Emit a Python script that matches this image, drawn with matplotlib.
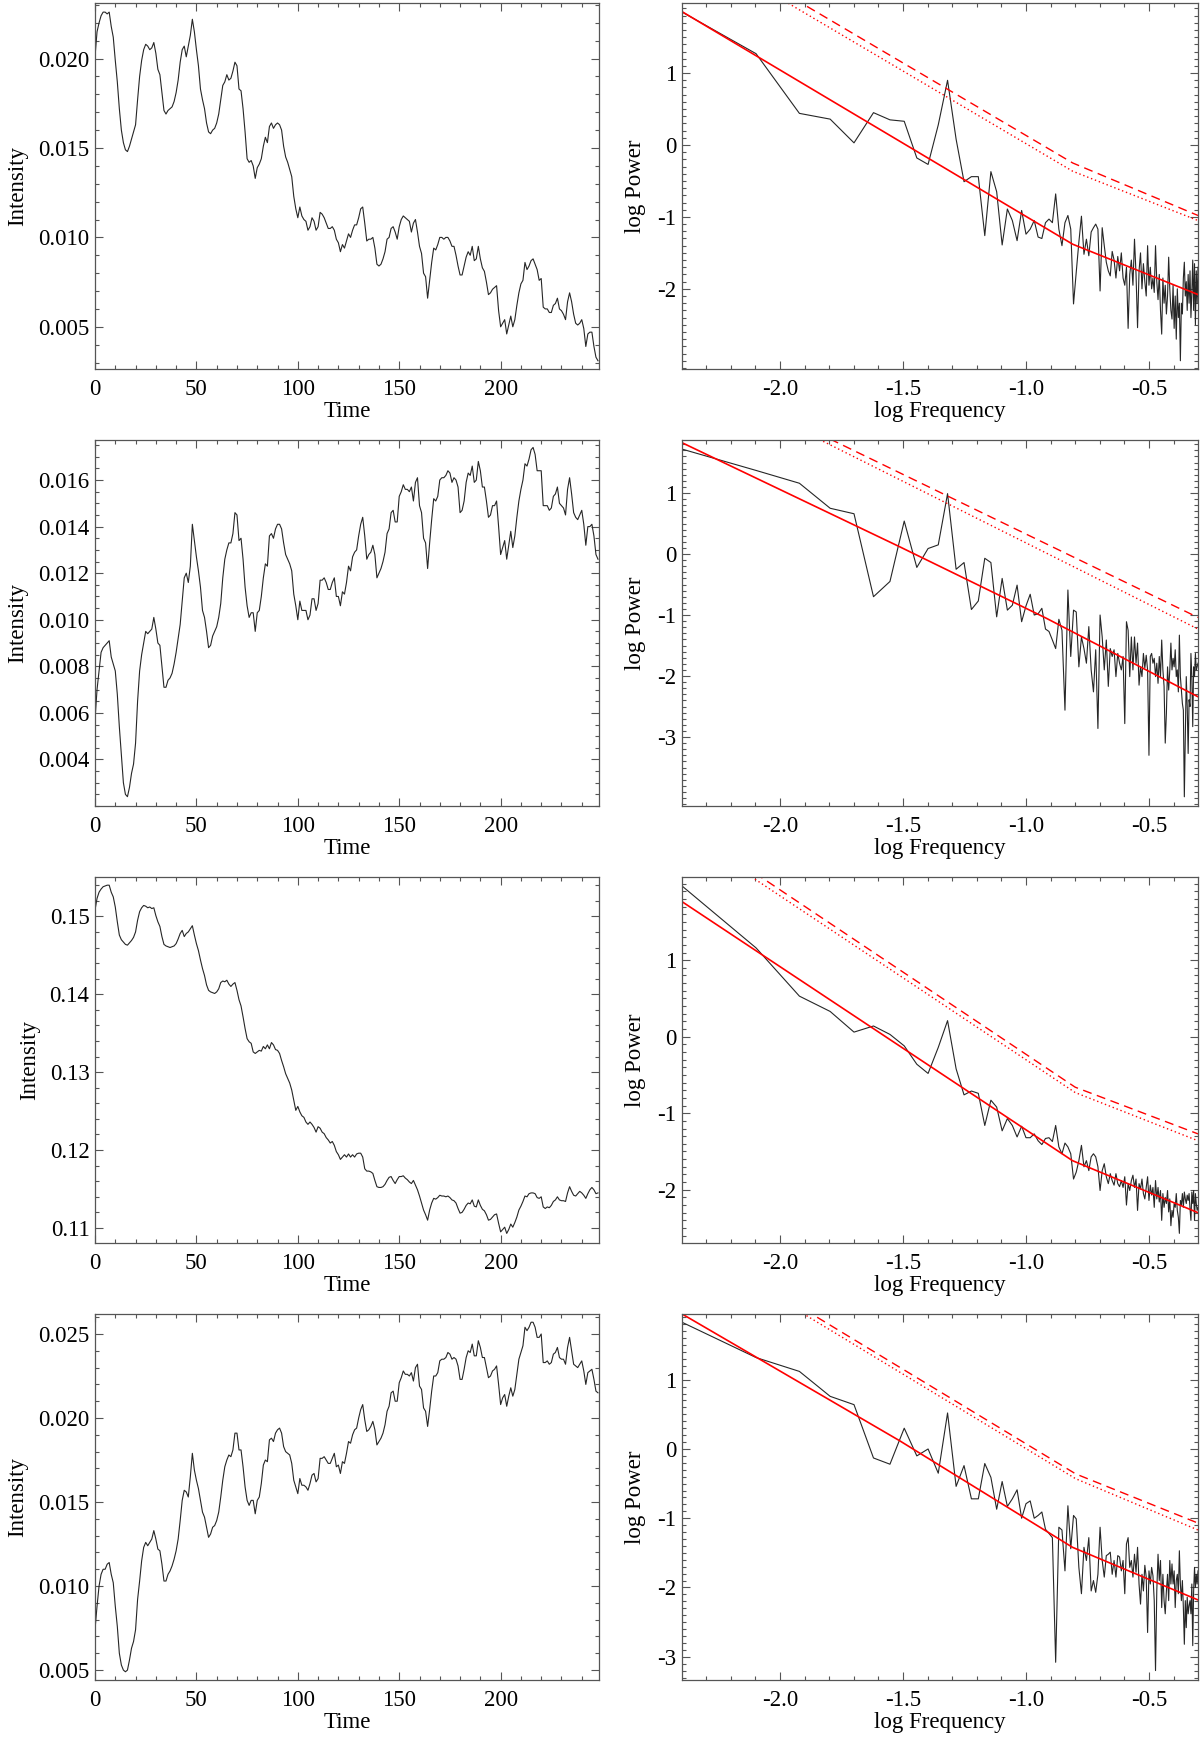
import numpy as np
import matplotlib
matplotlib.use("Agg")
import matplotlib.pyplot as plt
from matplotlib.ticker import MultipleLocator, FixedLocator, FormatStrFormatter

plt.rcParams["font.family"] = ["Liberation Serif", "DejaVu Serif"]
plt.rcParams["axes.unicode_minus"] = False
plt.rcParams["font.size"] = 16.5

# ---- light curves (one value per time step, t = 0..248) ----
intensity_1 = [
    0.0201, 0.0215, 0.0220, 0.0224, 0.0226, 0.0226, 0.0225, 0.0226, 0.0218, 0.0212,
    0.0199, 0.0187, 0.0172, 0.0160, 0.0153, 0.0149, 0.0148, 0.0151, 0.0155, 0.0159,
    0.0163, 0.0177, 0.0190, 0.0199, 0.0205, 0.0208, 0.0207, 0.0205, 0.0206, 0.0209,
    0.0203, 0.0194, 0.0191, 0.0181, 0.0171, 0.0169, 0.0171, 0.0172, 0.0173, 0.0176,
    0.0181, 0.0188, 0.0198, 0.0205, 0.0207, 0.0201, 0.0207, 0.0213, 0.0222, 0.0215,
    0.0205, 0.0196, 0.0183, 0.0177, 0.0172, 0.0164, 0.0159, 0.0158, 0.0160, 0.0161,
    0.0164, 0.0169, 0.0177, 0.0185, 0.0187, 0.0191, 0.0188, 0.0189, 0.0193, 0.0198,
    0.0196, 0.0183, 0.0182, 0.0172, 0.0159, 0.0144, 0.0142, 0.0143, 0.0140, 0.0133,
    0.0139, 0.0141, 0.0144, 0.0151, 0.0156, 0.0153, 0.0162, 0.0164, 0.0161, 0.0163,
    0.0164, 0.0163, 0.0160, 0.0151, 0.0145, 0.0142, 0.0138, 0.0134, 0.0123, 0.0116,
    0.0111, 0.0117, 0.0112, 0.0110, 0.0109, 0.0104, 0.0106, 0.0111, 0.0109, 0.0104,
    0.0106, 0.0114, 0.0113, 0.0111, 0.0108, 0.0105, 0.0105, 0.0106, 0.0104, 0.0099,
    0.0097, 0.0092, 0.0096, 0.0094, 0.0098, 0.0102, 0.0100, 0.0104, 0.0107, 0.0107,
    0.0111, 0.0116, 0.0117, 0.0108, 0.0098, 0.0099, 0.0099, 0.0100, 0.0094, 0.0085,
    0.0084, 0.0085, 0.0088, 0.0092, 0.0099, 0.0100, 0.0105, 0.0106, 0.0103, 0.0099,
    0.0106, 0.0110, 0.0112, 0.0111, 0.0110, 0.0109, 0.0103, 0.0108, 0.0110, 0.0103,
    0.0095, 0.0091, 0.0080, 0.0078, 0.0066, 0.0076, 0.0086, 0.0094, 0.0093, 0.0096,
    0.0100, 0.0100, 0.0099, 0.0100, 0.0100, 0.0098, 0.0095, 0.0095, 0.0090, 0.0084,
    0.0079, 0.0079, 0.0084, 0.0089, 0.0092, 0.0090, 0.0095, 0.0087, 0.0088, 0.0095,
    0.0088, 0.0083, 0.0081, 0.0075, 0.0068, 0.0069, 0.0071, 0.0072, 0.0073, 0.0059,
    0.0050, 0.0052, 0.0054, 0.0046, 0.0051, 0.0056, 0.0050, 0.0054, 0.0062, 0.0069,
    0.0074, 0.0076, 0.0086, 0.0082, 0.0084, 0.0087, 0.0088, 0.0085, 0.0082, 0.0076,
    0.0077, 0.0061, 0.0060, 0.0060, 0.0058, 0.0058, 0.0062, 0.0063, 0.0066, 0.0060,
    0.0059, 0.0057, 0.0054, 0.0064, 0.0069, 0.0064, 0.0057, 0.0052, 0.0051, 0.0052,
    0.0054, 0.0049, 0.0039, 0.0046, 0.0047, 0.0047, 0.0039, 0.0033, 0.0031]

intensity_2 = [
    0.0057, 0.0070, 0.0078, 0.0086, 0.0088, 0.0089, 0.0090, 0.0091, 0.0084, 0.0081,
    0.0078, 0.0068, 0.0054, 0.0042, 0.0030, 0.0025, 0.0024, 0.0028, 0.0034, 0.0038,
    0.0047, 0.0065, 0.0078, 0.0085, 0.0090, 0.0095, 0.0094, 0.0095, 0.0096, 0.0101,
    0.0096, 0.0090, 0.0089, 0.0080, 0.0071, 0.0071, 0.0074, 0.0075, 0.0077, 0.0081,
    0.0086, 0.0092, 0.0098, 0.0108, 0.0118, 0.0120, 0.0116, 0.0123, 0.0141, 0.0134,
    0.0127, 0.0121, 0.0114, 0.0104, 0.0101, 0.0095, 0.0088, 0.0089, 0.0093, 0.0095,
    0.0097, 0.0101, 0.0107, 0.0118, 0.0126, 0.0130, 0.0133, 0.0133, 0.0137, 0.0146,
    0.0145, 0.0134, 0.0135, 0.0126, 0.0114, 0.0106, 0.0101, 0.0103, 0.0103, 0.0095,
    0.0103, 0.0104, 0.0110, 0.0118, 0.0124, 0.0123, 0.0136, 0.0137, 0.0135, 0.0139,
    0.0141, 0.0141, 0.0139, 0.0133, 0.0128, 0.0126, 0.0124, 0.0121, 0.0111, 0.0106,
    0.0100, 0.0108, 0.0104, 0.0104, 0.0104, 0.0100, 0.0102, 0.0109, 0.0109, 0.0104,
    0.0107, 0.0117, 0.0117, 0.0118, 0.0116, 0.0113, 0.0113, 0.0116, 0.0118, 0.0110,
    0.0110, 0.0106, 0.0112, 0.0111, 0.0116, 0.0123, 0.0121, 0.0127, 0.0129, 0.0130,
    0.0136, 0.0141, 0.0144, 0.0136, 0.0126, 0.0128, 0.0129, 0.0132, 0.0128, 0.0118,
    0.0120, 0.0122, 0.0125, 0.0129, 0.0137, 0.0139, 0.0146, 0.0147, 0.0142, 0.0142,
    0.0153, 0.0155, 0.0158, 0.0156, 0.0156, 0.0155, 0.0157, 0.0151, 0.0159, 0.0161,
    0.0149, 0.0146, 0.0135, 0.0133, 0.0122, 0.0133, 0.0143, 0.0152, 0.0151, 0.0153,
    0.0160, 0.0161, 0.0161, 0.0162, 0.0164, 0.0163, 0.0159, 0.0161, 0.0160, 0.0157,
    0.0146, 0.0147, 0.0151, 0.0159, 0.0163, 0.0162, 0.0166, 0.0159, 0.0160, 0.0168,
    0.0164, 0.0157, 0.0157, 0.0151, 0.0144, 0.0145, 0.0149, 0.0149, 0.0151, 0.0140,
    0.0128, 0.0131, 0.0134, 0.0126, 0.0132, 0.0138, 0.0131, 0.0136, 0.0144, 0.0151,
    0.0156, 0.0160, 0.0167, 0.0166, 0.0169, 0.0173, 0.0174, 0.0171, 0.0164, 0.0164,
    0.0164, 0.0149, 0.0149, 0.0149, 0.0147, 0.0148, 0.0153, 0.0154, 0.0157, 0.0150,
    0.0149, 0.0148, 0.0145, 0.0156, 0.0161, 0.0154, 0.0146, 0.0144, 0.0143, 0.0145,
    0.0147, 0.0141, 0.0132, 0.0140, 0.0140, 0.0141, 0.0136, 0.0128, 0.0126]

intensity_3 = [
    0.1508, 0.1523, 0.1531, 0.1535, 0.1538, 0.1539, 0.1540, 0.1540, 0.1531, 0.1525,
    0.1512, 0.1493, 0.1476, 0.1470, 0.1467, 0.1464, 0.1463, 0.1466, 0.1469, 0.1473,
    0.1480, 0.1495, 0.1506, 0.1511, 0.1514, 0.1513, 0.1511, 0.1512, 0.1510, 0.1511,
    0.1501, 0.1493, 0.1487, 0.1474, 0.1464, 0.1462, 0.1461, 0.1460, 0.1461, 0.1462,
    0.1465, 0.1471, 0.1478, 0.1482, 0.1474, 0.1478, 0.1480, 0.1484, 0.1488, 0.1476,
    0.1465, 0.1456, 0.1444, 0.1433, 0.1424, 0.1412, 0.1405, 0.1403, 0.1402, 0.1401,
    0.1403, 0.1407, 0.1415, 0.1417, 0.1416, 0.1418, 0.1413, 0.1410, 0.1413, 0.1415,
    0.1405, 0.1393, 0.1385, 0.1371, 0.1356, 0.1343, 0.1339, 0.1337, 0.1326, 0.1324,
    0.1326, 0.1328, 0.1327, 0.1333, 0.1330, 0.1335, 0.1330, 0.1338, 0.1335, 0.1329,
    0.1328, 0.1324, 0.1315, 0.1307, 0.1298, 0.1292, 0.1286, 0.1277, 0.1264, 0.1251,
    0.1256, 0.1249, 0.1244, 0.1242, 0.1236, 0.1233, 0.1236, 0.1233, 0.1229, 0.1223,
    0.1230, 0.1228, 0.1223, 0.1221, 0.1216, 0.1213, 0.1209, 0.1211, 0.1206, 0.1198,
    0.1194, 0.1188, 0.1191, 0.1194, 0.1191, 0.1195, 0.1191, 0.1194, 0.1191, 0.1195,
    0.1196, 0.1196, 0.1191, 0.1176, 0.1173, 0.1173, 0.1172, 0.1170, 0.1161, 0.1153,
    0.1152, 0.1152, 0.1153, 0.1156, 0.1161, 0.1165, 0.1166, 0.1161, 0.1157, 0.1162,
    0.1166, 0.1166, 0.1167, 0.1164, 0.1162, 0.1159, 0.1157, 0.1161, 0.1155, 0.1149,
    0.1141, 0.1132, 0.1123, 0.1117, 0.1110, 0.1123, 0.1132, 0.1138, 0.1137, 0.1139,
    0.1142, 0.1141, 0.1141, 0.1140, 0.1141, 0.1139, 0.1136, 0.1135, 0.1132, 0.1125,
    0.1119, 0.1120, 0.1124, 0.1129, 0.1132, 0.1131, 0.1136, 0.1128, 0.1127, 0.1136,
    0.1129, 0.1124, 0.1122, 0.1117, 0.1110, 0.1111, 0.1114, 0.1117, 0.1118, 0.1106,
    0.1095, 0.1098, 0.1101, 0.1093, 0.1098, 0.1105, 0.1101, 0.1107, 0.1114, 0.1123,
    0.1128, 0.1134, 0.1141, 0.1140, 0.1144, 0.1145, 0.1145, 0.1144, 0.1139, 0.1138,
    0.1140, 0.1127, 0.1125, 0.1127, 0.1126, 0.1129, 0.1134, 0.1136, 0.1140, 0.1136,
    0.1135, 0.1135, 0.1134, 0.1145, 0.1153, 0.1147, 0.1142, 0.1141, 0.1144, 0.1147,
    0.1145, 0.1142, 0.1138, 0.1144, 0.1149, 0.1152, 0.1149, 0.1144, 0.1145]

intensity_4 = [
    0.0074, 0.0088, 0.0100, 0.0107, 0.0110, 0.0110, 0.0113, 0.0114, 0.0107, 0.0102,
    0.0088, 0.0076, 0.0060, 0.0053, 0.0050, 0.0049, 0.0050, 0.0056, 0.0063, 0.0067,
    0.0074, 0.0092, 0.0103, 0.0115, 0.0123, 0.0126, 0.0124, 0.0126, 0.0128, 0.0133,
    0.0128, 0.0122, 0.0121, 0.0113, 0.0103, 0.0103, 0.0107, 0.0109, 0.0112, 0.0116,
    0.0121, 0.0128, 0.0139, 0.0151, 0.0157, 0.0156, 0.0153, 0.0165, 0.0179, 0.0169,
    0.0163, 0.0158, 0.0151, 0.0144, 0.0141, 0.0135, 0.0129, 0.0131, 0.0135, 0.0136,
    0.0139, 0.0144, 0.0153, 0.0163, 0.0171, 0.0175, 0.0178, 0.0177, 0.0181, 0.0191,
    0.0191, 0.0181, 0.0181, 0.0171, 0.0159, 0.0151, 0.0148, 0.0151, 0.0151, 0.0143,
    0.0151, 0.0153, 0.0161, 0.0172, 0.0175, 0.0174, 0.0187, 0.0188, 0.0186, 0.0191,
    0.0193, 0.0194, 0.0191, 0.0183, 0.0180, 0.0179, 0.0178, 0.0173, 0.0163, 0.0159,
    0.0155, 0.0164, 0.0160, 0.0160, 0.0159, 0.0157, 0.0161, 0.0166, 0.0167, 0.0162,
    0.0164, 0.0176, 0.0176, 0.0177, 0.0175, 0.0173, 0.0173, 0.0176, 0.0179, 0.0171,
    0.0172, 0.0167, 0.0174, 0.0173, 0.0179, 0.0186, 0.0185, 0.0190, 0.0193, 0.0194,
    0.0200, 0.0205, 0.0208, 0.0199, 0.0192, 0.0193, 0.0195, 0.0198, 0.0193, 0.0184,
    0.0186, 0.0188, 0.0191, 0.0196, 0.0204, 0.0207, 0.0215, 0.0216, 0.0210, 0.0210,
    0.0221, 0.0224, 0.0228, 0.0226, 0.0226, 0.0225, 0.0227, 0.0222, 0.0230, 0.0232,
    0.0219, 0.0217, 0.0206, 0.0204, 0.0195, 0.0205, 0.0216, 0.0225, 0.0225, 0.0227,
    0.0234, 0.0235, 0.0235, 0.0236, 0.0239, 0.0238, 0.0235, 0.0236, 0.0235, 0.0231,
    0.0223, 0.0223, 0.0229, 0.0236, 0.0240, 0.0239, 0.0244, 0.0237, 0.0237, 0.0246,
    0.0242, 0.0236, 0.0236, 0.0230, 0.0224, 0.0225, 0.0228, 0.0229, 0.0231, 0.0220,
    0.0208, 0.0212, 0.0214, 0.0207, 0.0213, 0.0218, 0.0213, 0.0217, 0.0226, 0.0235,
    0.0239, 0.0243, 0.0254, 0.0252, 0.0254, 0.0257, 0.0257, 0.0254, 0.0248, 0.0248,
    0.0250, 0.0233, 0.0233, 0.0234, 0.0232, 0.0233, 0.0238, 0.0239, 0.0242, 0.0236,
    0.0235, 0.0235, 0.0232, 0.0242, 0.0248, 0.0240, 0.0232, 0.0231, 0.0230, 0.0232,
    0.0234, 0.0228, 0.0220, 0.0227, 0.0228, 0.0229, 0.0223, 0.0216, 0.0215]

# ---- log power spectra, Fourier bins k = 1..125 of a 250-sample series ----
log_power_1 = [
    1.85, 1.27, 0.44, 0.36, 0.03, 0.45, 0.35, 0.33, -0.18, -0.27,
    0.28, 0.90, 0.08, -0.51, -0.44, -0.44, -1.26, -0.37, -0.65, -1.39,
    -0.89, -1.05, -1.33, -0.91, -1.24, -1.17, -1.05, -1.28, -1.30, -1.08,
    -1.03, -1.08, -0.68, -1.17, -1.40, -1.08, -0.98, -1.17, -2.21, -1.77,
    -1.35, -0.99, -1.52, -1.31, -1.54, -1.21, -1.15, -1.10, -1.17, -2.03,
    -1.15, -1.40, -1.63, -1.75, -1.82, -1.48, -1.60, -1.85, -1.55, -1.75,
    -1.50, -1.85, -1.95, -1.70, -2.55, -1.80, -1.60, -1.95, -1.31, -1.80,
    -2.54, -1.75, -1.50, -2.00, -1.65, -1.90, -2.10, -1.40, -1.95, -1.70,
    -2.00, -1.85, -2.05, -1.40, -1.90, -2.15, -1.80, -2.30, -2.63, -1.85,
    -2.20, -1.95, -2.35, -2.10, -1.56, -2.00, -2.30, -2.42, -1.95, -2.55,
    -2.10, -2.70, -2.00, -2.40, -2.20, -3.00, -2.20, -2.35, -1.85, -1.63,
    -2.10, -1.90, -2.30, -1.80, -2.20, -1.75, -2.40, -2.05, -1.60, -2.30,
    -1.65, -2.50, -1.75, -2.20, -1.70]

log_power_2 = [
    1.72, 1.37, 1.16, 0.75, 0.66, -0.70, -0.45, 0.54, -0.22, 0.09,
    0.15, 0.99, -0.25, -0.14, -0.91, -0.77, -0.07, -0.14, -1.03, -0.40,
    -0.92, -0.84, -0.51, -1.11, -0.85, -0.66, -1.00, -0.98, -0.89, -1.23,
    -1.27, -1.41, -1.55, -1.07, -1.25, -2.56, -0.59, -1.68, -0.92, -0.95,
    -1.85, -1.36, -1.55, -1.79, -1.19, -1.90, -2.26, -1.57, -2.86, -1.00,
    -1.36, -1.90, -1.41, -2.17, -1.55, -1.68, -1.57, -2.01, -1.63, -1.79,
    -1.90, -1.68, -2.78, -1.11, -1.25, -2.01, -1.36, -1.90, -1.36, -1.79,
    -1.46, -2.15, -1.85, -2.01, -1.63, -1.87, -1.66, -1.90, -3.30, -1.68,
    -1.63, -1.79, -1.71, -2.01, -1.79, -2.12, -1.68, -2.01, -1.41, -1.90,
    -2.17, -3.10, -2.61, -1.85, -2.23, -1.90, -1.46, -1.90, -1.71, -1.85,
    -1.57, -2.01, -1.90, -2.26, -1.33, -2.01, -2.23, -2.45, -2.56, -3.98,
    -2.99, -2.01, -2.50, -3.27, -2.39, -2.50, -1.63, -2.01, -2.83, -1.85,
    -2.01, -1.63, -1.90, -1.85, -1.79]

log_power_3 = [
    1.97, 1.16, 0.53, 0.33, 0.06, 0.14, 0.03, -0.12, -0.36, -0.48,
    -0.14, 0.21, -0.42, -0.76, -0.71, -0.74, -1.16, -0.83, -0.92, -1.23,
    -1.07, -1.16, -1.31, -1.17, -1.32, -1.32, -1.27, -1.36, -1.41, -1.33,
    -1.32, -1.37, -1.16, -1.44, -1.53, -1.39, -1.44, -1.53, -1.86, -1.77,
    -1.62, -1.42, -1.70, -1.62, -1.75, -1.57, -1.53, -1.57, -1.70, -2.01,
    -1.75, -1.66, -1.83, -1.92, -1.79, -1.88, -1.94, -1.79, -1.92, -1.96,
    -1.88, -1.97, -1.83, -2.20, -1.92, -2.01, -1.88, -1.81, -1.97, -1.86,
    -2.27, -1.92, -1.99, -1.86, -2.05, -2.12, -1.97, -1.83, -2.14, -1.94,
    -2.07, -1.97, -2.23, -1.88, -2.12, -1.97, -2.16, -2.01, -2.40, -2.05,
    -2.23, -2.10, -2.18, -2.01, -2.29, -2.12, -2.47, -2.27, -2.36, -2.18,
    -2.23, -2.05, -2.27, -2.36, -2.57, -2.14, -2.20, -2.05, -2.23, -2.03,
    -2.12, -2.18, -2.07, -2.14, -2.05, -2.25, -2.40, -2.03, -2.18, -2.01,
    -2.40, -2.05, -2.18, -2.27, -2.23]

log_power_4 = [
    1.83, 1.32, 1.12, 0.76, 0.64, -0.13, -0.22, 0.30, -0.10, 0.00,
    -0.35, 0.52, -0.54, -0.24, -0.72, -0.72, -0.21, -0.41, -0.87, -0.47,
    -0.83, -0.72, -0.59, -1.00, -0.79, -0.75, -1.00, -0.96, -0.91, -1.16,
    -1.22, -1.28, -3.08, -1.13, -1.17, -1.76, -0.82, -1.44, -0.96, -1.01,
    -1.71, -2.09, -1.42, -1.61, -1.28, -2.05, -1.90, -2.07, -1.81, -1.13,
    -1.61, -1.85, -1.54, -1.52, -1.49, -1.81, -1.61, -1.85, -1.54, -1.56,
    -1.76, -1.61, -2.09, -1.37, -1.28, -1.71, -1.61, -1.85, -1.52, -1.78,
    -1.42, -1.95, -2.24, -1.81, -2.05, -1.68, -1.85, -2.65, -1.76, -1.95,
    -1.71, -1.83, -2.19, -3.20, -2.05, -1.52, -1.90, -1.61, -2.29, -1.81,
    -2.19, -2.38, -2.05, -1.81, -2.19, -1.61, -1.95, -1.66, -1.95, -1.76,
    -2.29, -1.90, -1.81, -2.09, -1.47, -1.95, -2.19, -1.90, -2.29, -2.82,
    -2.19, -2.58, -2.14, -2.38, -2.26, -2.19, -2.38, -1.95, -2.84, -2.05,
    -1.71, -2.00, -1.81, -1.95, -1.76]

# ---- fitted model and confidence levels (vertices) ----
fit_x_1 = [-2.398, -0.81, -0.301]
fit_y_1 = [1.855, -1.38, -2.08]
conf95_x_1 = [-2.0, -0.81, -0.301]
conf95_y_1 = [2.04, -0.365, -1.05]
conf99_x_1 = [-2.0, -0.81, -0.301]
conf99_y_1 = [2.15, -0.25, -0.98]

fit_x_2 = [-2.398, -1.514, -0.919, -0.301]
fit_y_2 = [1.825, 0.12, -1.05, -2.34]
conf95_x_2 = [-1.90, -0.301]
conf95_y_2 = [2.00, -1.23]
conf99_x_2 = [-1.85, -0.301]
conf99_y_2 = [1.99, -1.04]

fit_x_3 = [-2.398, -0.811, -0.301]
fit_y_3 = [1.765, -1.62, -2.30]
conf95_x_3 = [-2.2, -0.80, -0.301]
conf95_y_3 = [2.27, -0.73, -1.36]
conf99_x_3 = [-2.2, -0.80, -0.301]
conf99_y_3 = [2.35, -0.66, -1.27]

fit_x_4 = [-2.398, -1.514, -0.811, -0.301]
fit_y_4 = [1.95, 0.12, -1.42, -2.18]
conf95_x_4 = [-1.95, -0.798, -0.301]
conf95_y_4 = [2.05, -0.43, -1.17]
conf99_x_4 = [-1.95, -0.798, -0.301]
conf99_y_4 = [2.12, -0.36, -1.07]

# labelled y ticks, as in the original (IDL drops the end labels)
yticks_left = [
    [0.005, 0.010, 0.015, 0.020],
    [0.004, 0.006, 0.008, 0.010, 0.012, 0.014, 0.016],
    [0.11, 0.12, 0.13, 0.14, 0.15],
    [0.005, 0.010, 0.015, 0.020, 0.025],
]
yticks_right = [
    [-2, -1, 0, 1],
    [-3, -2, -1, 0, 1],
    [-2, -1, 0, 1],
    [-3, -2, -1, 0, 1],
]

N_SAMPLES = 250
log_freq = np.log10(np.arange(1, len(log_power_1) + 1) / N_SAMPLES)

FIG_W, FIG_H = 1200, 1742
ROWS_PX = [(3, 369), (440, 806), (877, 1243), (1314, 1680)]
LEFT_PX = (95, 599)
RIGHT_PX = (682, 1198)

LINE = "#262626"
RED = "#ff0000"


def px_axes(fig, xr, yr):
    return fig.add_axes([xr[0] / FIG_W, 1 - yr[1] / FIG_H,
                         (xr[1] - xr[0]) / FIG_W, (yr[1] - yr[0]) / FIG_H])


def idl_ticks(ax, xmaj, xmin, yticks, ymin, yfmt, xfmt):
    ax.xaxis.set_major_locator(MultipleLocator(xmaj))
    ax.xaxis.set_minor_locator(MultipleLocator(xmin))
    ax.yaxis.set_major_locator(FixedLocator(yticks))
    ax.yaxis.set_minor_locator(MultipleLocator(ymin))
    ax.yaxis.set_major_formatter(FormatStrFormatter(yfmt))
    ax.xaxis.set_major_formatter(FormatStrFormatter(xfmt))
    ax.tick_params(which="both", direction="in", top=True, right=True,
                   width=0.8, color="#555555")
    ax.tick_params(which="major", length=6)
    ax.tick_params(which="minor", length=3)
    ax.tick_params(axis="y", which="major", pad=4)
    ax.tick_params(axis="x", which="major", pad=7)
    for sp in ax.spines.values():
        sp.set_linewidth(0.9)
        sp.set_color("#555555")


def light_curve(ax, series, ylim, yticks, ymin, yfmt):
    t = np.arange(len(series))
    ax.plot(t, series, color=LINE, lw=0.8)
    ax.set_xlim(0, 248.5)
    ax.set_ylim(*ylim)
    idl_ticks(ax, 50, 10, yticks, ymin, yfmt, "%d")
    ax.set_xlabel("Time", labelpad=1)
    ax.set_ylabel("Intensity", labelpad=7)


def spectrum(ax, power, fit, c95, c99, ylim, yticks):
    ax.plot(log_freq, power, color=LINE, lw=0.8)
    ax.plot(fit[0], fit[1], color=RED, lw=1.2)
    ax.plot(c95[0], c95[1], color=RED, lw=1.0, dashes=(1.0, 2.0))
    ax.plot(c99[0], c99[1], color=RED, lw=1.0, dashes=(6.5, 4.0))
    ax.set_xlim(np.log10(1 / N_SAMPLES), np.log10(0.5))
    ax.set_ylim(*ylim)
    idl_ticks(ax, 0.5, 0.1, yticks, 0.1, "%d", "%.1f")
    ax.set_xlabel("log Frequency", labelpad=1)
    ax.set_ylabel("log Power", labelpad=8)


fig = plt.figure(figsize=(FIG_W / 100, FIG_H / 100), dpi=100)

left_panels = [
    (intensity_1, (0.00264, 0.02311), yticks_left[0], 0.001, "%.3f"),
    (intensity_2, (0.0020, 0.01772), yticks_left[1], 0.0005, "%.3f"),
    (intensity_3, (0.10807, 0.15505), yticks_left[2], 0.002, "%.2f"),
    (intensity_4, (0.00441, 0.02619), yticks_left[3], 0.001, "%.3f"),
]
right_panels = [
    (log_power_1, (fit_x_1, fit_y_1), (conf95_x_1, conf95_y_1), (conf99_x_1, conf99_y_1),
     (-3.115, 1.975), yticks_right[0]),
    (log_power_2, (fit_x_2, fit_y_2), (conf95_x_2, conf95_y_2), (conf99_x_2, conf99_y_2),
     (-4.131, 1.869), yticks_right[1]),
    (log_power_3, (fit_x_3, fit_y_3), (conf95_x_3, conf95_y_3), (conf99_x_3, conf99_y_3),
     (-2.696, 2.087), yticks_right[2]),
    (log_power_4, (fit_x_4, fit_y_4), (conf95_x_4, conf95_y_4), (conf99_x_4, conf99_y_4),
     (-3.336, 1.949), yticks_right[3]),
]

for row, lp, rp in zip(ROWS_PX, left_panels, right_panels):
    axl = px_axes(fig, LEFT_PX, row)
    light_curve(axl, *lp)
    axr = px_axes(fig, RIGHT_PX, row)
    spectrum(axr, *rp)

fig.savefig("out.png", dpi=100)
